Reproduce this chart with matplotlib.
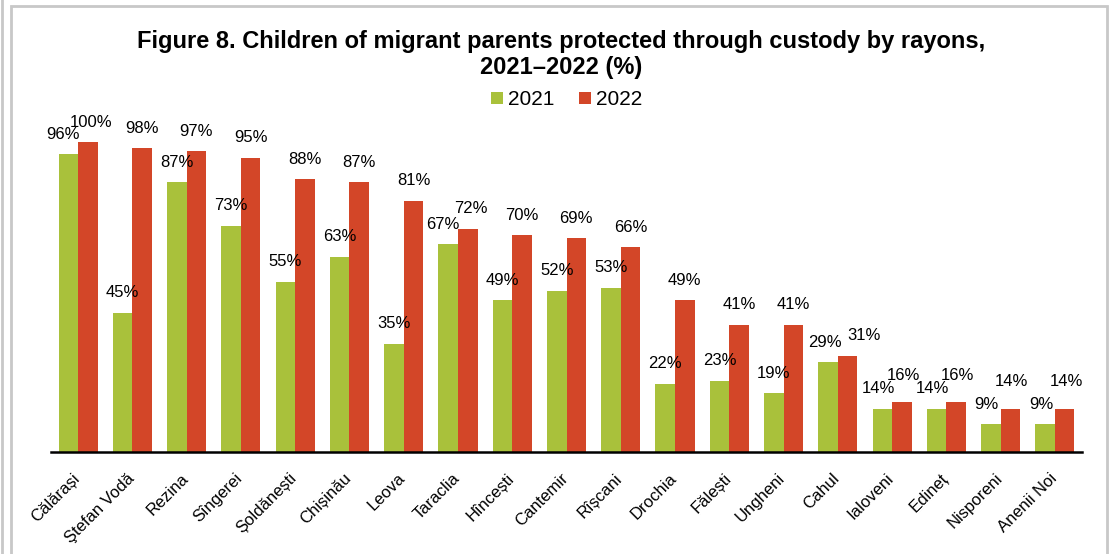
import numpy as np
import matplotlib.pyplot as plt
import matplotlib.transforms as mtrans
from matplotlib.patches import Rectangle
from matplotlib.lines import Line2D

plt.rcParams['font.family'] = ['Liberation Sans', 'DejaVu Sans']

rayons = ['Călărași', 'Ştefan Vodă', 'Rezina', 'Sîngerei', 'Șoldănești', 'Chișinău',
          'Leova', 'Taraclia', 'Hîncești', 'Cantemir', 'Rîșcani', 'Drochia',
          'Fălești', 'Ungheni', 'Cahul', 'Ialoveni', 'Edineț', 'Nisporeni', 'Anenii Noi']
v2021 = [96, 45, 87, 73, 55, 63, 35, 67, 49, 52, 53, 22, 23, 19, 29, 14, 14, 9, 9]
v2022 = [100, 98, 97, 95, 88, 87, 81, 72, 70, 69, 66, 49, 41, 41, 31, 16, 16, 14, 14]

green = '#A9C13B'
red = '#D34628'

fig = plt.figure(figsize=(11.11, 5.54), dpi=100)

# outer frame like the report's chart box
fig.add_artist(Rectangle((11/1111, -0.05), (1107-11)/1111, (551-3)/554 + 0.05,
                         transform=fig.transFigure, fill=False,
                         edgecolor='#c8c8c8', linewidth=2))
fig.add_artist(Line2D([2/1111, 2/1111], [0, 1], transform=fig.transFigure,
                      color='#c8c8c8', linewidth=2))

ax = fig.add_axes([51/1111, 102/554, 1031/1111, 341/554])
x = np.arange(len(rayons))
w = 0.36
b1 = ax.bar(x - w/2, v2021, w, color=green, label='2021')
b2 = ax.bar(x + w/2, v2022, w, color=red, label='2022')

lab_font = dict(fontsize=12, family=['Liberation Sans Narrow', 'Liberation Sans'])
for xi, a, b in zip(x, v2021, v2022):
    # push close labels apart, as in the source chart
    dg, dr, up = 0, 0, 9
    if b - a < 3 and a > 20:
        dg, dr = -2, 12
    elif b - a < 8 and a > 20:
        dg, dr = -4, 2
    elif b - a < 8:
        dg, dr, up = -3, 1, 14
    ax.annotate(f'{a}%', (xi - w/2, a), xytext=(dg, 9), textcoords='offset points',
                ha='center', va='bottom', **lab_font)
    ax.annotate(f'{b}%', (xi + w/2, b), xytext=(dr, up), textcoords='offset points',
                ha='center', va='bottom', **lab_font)

ax.set_xlim(-0.5, len(rayons) - 0.5)
ax.set_ylim(0, 110)
ax.set_yticks([])
for s in ['top', 'right', 'left']:
    ax.spines[s].set_visible(False)
ax.spines['bottom'].set_linewidth(1.8)
ax.set_xticks(x)
ax.set_xticklabels(rayons, rotation=45, ha='right', rotation_mode='anchor', fontsize=12)
ax.tick_params(axis='x', length=0, pad=12)
shift = mtrans.ScaledTranslation(-6/100, -2/100, fig.dpi_scale_trans)
for t in ax.get_xticklabels():
    t.set_transform(t.get_transform() + shift)

fig.text(0.505, 0.925, 'Figure 8. Children of migrant parents protected through custody by rayons,',
         ha='center', va='center', fontsize=17, fontweight='bold')
fig.text(0.505, 0.879, '2021–2022 (%)', ha='center', va='center', fontsize=17, fontweight='bold')

fig.legend(handles=[b1, b2], loc='center', bbox_to_anchor=(0.51, 0.82), ncol=2,
           frameon=False, fontsize=15, handlelength=0.55, handleheight=0.55,
           handletextpad=0.25, columnspacing=1.2)

fig.savefig('out.png', dpi=100)
